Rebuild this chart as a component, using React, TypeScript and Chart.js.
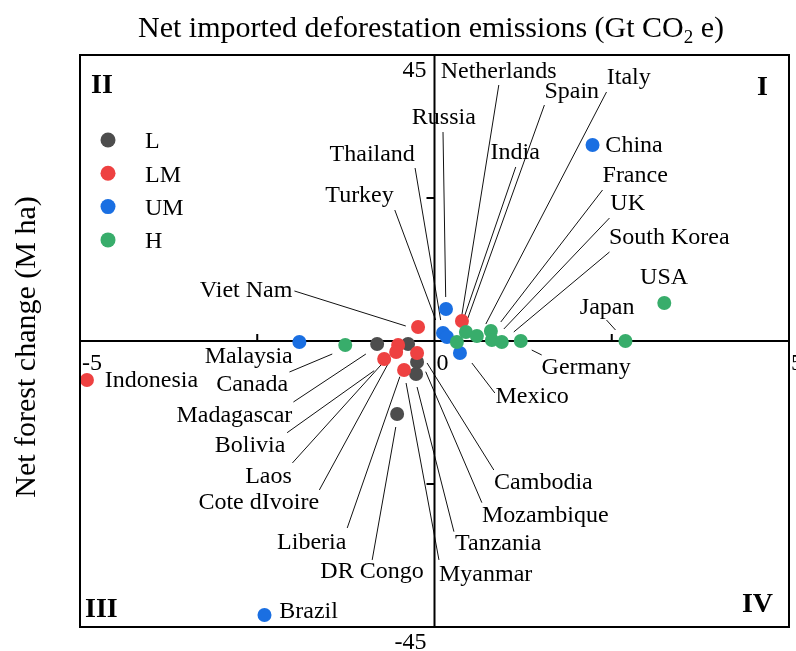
import React, { useEffect, useRef } from 'react';
import { Chart, registerables } from 'chart.js';
Chart.register(...registerables);

// ---- data (x: Gt CO2e, y: M ha) ----
const groupNames = ['L', 'LM', 'UM', 'H'];
const groupColors = ['#4d4d4d', '#ee4141', '#1a6fe2', '#38ad6b'];

const lowX = [-0.809, -0.373, -0.246, -0.260, -0.527];
const lowY = [-0.47, -0.47, -3.30, -5.19, -11.48];

const lowMidX = [-4.902, -0.513, -0.541, -0.710, -0.246, -0.429, -0.232, 0.387];
const lowMidY = [-6.14, -0.63, -1.73, -2.83, -1.89, -4.56, 2.20, 3.15];

const upMidX = [-2.398, -1.906, 0.162, 0.120, 0.176, 0.359, 2.229];
const upMidY = [-43.11, -0.16, 5.03, 1.26, 0.63, -1.89, 30.84];

const highX = [-1.259, 0.316, 0.443, 0.598, 0.795, 0.809, 0.949, 1.217, 2.693, 3.241];
const highY = [-0.63, -0.16, 1.42, 0.79, 1.57, 0.16, -0.16, 0, 0, 5.98];

const xMin = -5, xMax = 5, yMin = -45, yMax = 45;
const xTickLabels = ['-5', '0', '5'];
const xTickValues = [-5, 0, 5];
const xMinorTicks = [-2.5, 2.5];
const yTickValues = [-45, -22.5, 22.5, 45];
const yTickLabels = ['45', '-45'];
const yTickLabelValues = [45, -45];

const xTitle = ['Net imported deforestation emissions (Gt CO', '2', ' e)'];
const yTitle = 'Net forest change (M ha)';
const quadrants = ['I', 'II', 'III', 'IV'];

// country labels (text, anchor x, anchor y in data units; left aligned, middle)
const countryNames = ['Netherlands', 'Spain', 'Italy', 'Russia', 'India', 'Thailand', 'Turkey', 'China', 'France', 'UK', 'South Korea', 'USA', 'Japan', 'Germany', 'Mexico', 'Viet Nam', 'Malaysia', 'Indonesia', 'Canada', 'Madagascar', 'Bolivia', 'Laos', 'Cote dIvoire', 'Liberia', 'DR Congo', 'Myanmar', 'Tanzania', 'Mozambique', 'Cambodia', 'Brazil'];
const countryLabelX = [0.087, 1.55, 2.43, -0.32, 0.79, -1.48, -1.54, 2.41, 2.37, 2.48, 2.46, 2.90, 2.05, 1.51, 0.86, -3.31, -3.24, -4.65, -3.08, -3.64, -3.10, -2.67, -3.33, -2.22, -1.61, 0.063, 0.29, 0.67, 0.84, -2.19];
const countryLabelY = [42.3, 39.3, 41.4, 35.2, 29.7, 29.3, 22.8, 30.8, 26.0, 21.6, 16.2, 9.9, 5.3, -4.2, -8.7, 7.9, -2.4, -6.3, -6.9, -11.8, -16.5, -21.4, -25.5, -31.8, -36.3, -36.7, -31.9, -27.5, -22.3, -42.6];

// leader segments [x1, y1, x2, y2] in data units
const leaderLines = [
  [0.907, 40.28, 0.359, 2.20],
  [1.550, 37.13, 0.471, 3.62],
  [2.426, 39.18, 0.724, 2.67],
  [0.120, 32.88, 0.158, 6.92],
  [1.146, 27.38, 0.429, 4.09],
  [-0.274, 27.22, 0.087, 3.30],
  [-0.560, 20.61, 0.017, 3.30],
  [2.370, 23.76, 0.935, 2.99],
  [2.468, 19.35, 0.978, 1.89],
  [2.468, 14.00, 1.118, 1.42],
  [2.426, 3.30, 2.553, 1.73],
  [1.371, -1.42, 1.512, -2.20],
  [0.527, -3.46, 0.851, -8.18],
  [-1.976, 7.87, -0.405, 2.36],
  [-2.046, -4.88, -1.442, -2.05],
  [-1.990, -9.60, -0.968, -2.05],
  [-2.079, -14.43, -0.851, -4.67],
  [-2.004, -19.19, -0.640, -2.36],
  [-1.624, -23.44, -0.626, -2.99],
  [-1.231, -29.42, -0.489, -5.62],
  [-0.879, -34.45, -0.546, -13.53],
  [0.063, -34.45, -0.401, -6.61],
  [0.274, -30.00, -0.246, -7.24],
  [0.668, -25.44, -0.124, -4.83],
  [0.837, -20.30, -0.105, -3.46],
];

const FONT = "'Liberation Serif', 'Times New Roman', serif";

function toPoints(xs: number[], ys: number[]) {
  return xs.map((x, i) => ({ x, y: ys[i] }));
}

const overlay = {
  id: 'overlay',
  beforeDatasetsDraw(chart: any) {
    const { ctx, chartArea: ca, scales } = chart;
    const sx = scales.x, sy = scales.y;
    const x0 = sx.getPixelForValue(0), y0 = sy.getPixelForValue(0);
    ctx.save();
    ctx.strokeStyle = '#111';
    ctx.lineWidth = 1;
    leaderLines.forEach(([a, b, c, d]) => {
      ctx.beginPath();
      ctx.moveTo(sx.getPixelForValue(a), sy.getPixelForValue(b));
      ctx.lineTo(sx.getPixelForValue(c), sy.getPixelForValue(d));
      ctx.stroke();
    });
    ctx.strokeStyle = '#000';
    ctx.lineWidth = 2;
    ctx.beginPath();
    ctx.moveTo(ca.left, y0); ctx.lineTo(ca.right, y0);
    ctx.moveTo(x0, ca.top); ctx.lineTo(x0, ca.bottom);
    xMinorTicks.forEach((v) => {
      const px = sx.getPixelForValue(v);
      ctx.moveTo(px, y0); ctx.lineTo(px, y0 - 7);
    });
    yTickValues.forEach((v) => {
      const py = sy.getPixelForValue(v);
      ctx.moveTo(x0 - 8, py); ctx.lineTo(x0, py);
    });
    ctx.stroke();
    ctx.restore();
  },
  afterDatasetsDraw(chart: any) {
    const { ctx, chartArea: ca, scales } = chart;
    const sx = scales.x, sy = scales.y;
    const x0 = sx.getPixelForValue(0), y0 = sy.getPixelForValue(0);
    ctx.save();
    // frame
    ctx.strokeStyle = '#000';
    ctx.lineWidth = 2;
    ctx.strokeRect(ca.left, ca.top, ca.right - ca.left, ca.bottom - ca.top);

    ctx.fillStyle = '#000';
    ctx.font = `24px ${FONT}`;
    ctx.textBaseline = 'middle';
    // x tick labels
    ctx.textAlign = 'left';
    xTickValues.forEach((v, i) => {
      ctx.fillText(xTickLabels[i], sx.getPixelForValue(v) + 2, y0 + 23);
    });
    // y tick labels
    ctx.textAlign = 'right';
    yTickLabelValues.forEach((v, i) => {
      ctx.fillText(yTickLabels[i], x0 - 8, sy.getPixelForValue(v) + 16);
    });

    // country labels
    ctx.textAlign = 'left';
    countryNames.forEach((name, i) => {
      ctx.fillText(name, sx.getPixelForValue(countryLabelX[i]), sy.getPixelForValue(countryLabelY[i]));
    });

    // legend
    groupNames.forEach((g, i) => {
      const cy = ca.top + 85 + i * 33.3;
      ctx.fillStyle = groupColors[i];
      ctx.beginPath();
      ctx.arc(ca.left + 28, cy, 7.5, 0, Math.PI * 2);
      ctx.fill();
      ctx.fillStyle = '#000';
      ctx.fillText(g, ca.left + 65, cy + 2);
    });

    // quadrant numerals
    ctx.font = `bold 28px ${FONT}`;
    ctx.textBaseline = 'alphabetic';
    ctx.textAlign = 'right';
    ctx.fillText(quadrants[0], ca.right - 21, ca.top + 40);
    ctx.textAlign = 'left';
    ctx.fillText(quadrants[1], ca.left + 11, ca.top + 38);
    ctx.fillText(quadrants[2], ca.left + 5, ca.bottom - 10);
    ctx.textAlign = 'right';
    ctx.fillText(quadrants[3], ca.right - 16, ca.bottom - 15);

    // x title with subscript
    ctx.textAlign = 'left';
    ctx.font = `30px ${FONT}`;
    const w1 = ctx.measureText(xTitle[0]).width;
    const w3 = ctx.measureText(xTitle[2]).width;
    ctx.font = `19px ${FONT}`;
    const w2 = ctx.measureText(xTitle[1]).width;
    const total = w1 + w2 + w3;
    const startX = 431 - total / 2;
    const base = 37;
    ctx.font = `30px ${FONT}`;
    ctx.fillText(xTitle[0], startX, base);
    ctx.font = `19px ${FONT}`;
    ctx.fillText(xTitle[1], startX + w1, base + 6);
    ctx.font = `30px ${FONT}`;
    ctx.fillText(xTitle[2], startX + w1 + w2, base);

    // y title
    ctx.save();
    ctx.translate(27, 347);
    ctx.rotate(-Math.PI / 2);
    ctx.textAlign = 'center';
    ctx.textBaseline = 'middle';
    ctx.font = `30px ${FONT}`;
    ctx.fillText(yTitle, 0, 0);
    ctx.restore();

    ctx.restore();
  },
};

export default function App() {
  const ref = useRef<HTMLCanvasElement>(null);
  useEffect(() => {
    if (!ref.current) return;
    const series = [
      toPoints(lowX, lowY),
      toPoints(lowMidX, lowMidY),
      toPoints(upMidX, upMidY),
      toPoints(highX, highY),
    ];
    const chart = new Chart(ref.current, {
      type: 'scatter',
      data: {
        datasets: series.map((pts, i) => ({
          label: groupNames[i],
          data: pts,
          backgroundColor: groupColors[i],
          borderColor: groupColors[i],
          borderWidth: 0,
          pointRadius: 7,
          order: 3 - i,
        })),
      },
      options: {
        responsive: false,
        animation: false,
        devicePixelRatio: 1,
        layout: { padding: { left: 80, top: 55, right: 5, bottom: 24 } },
        scales: {
          x: { type: 'linear', min: xMin, max: xMax, display: false },
          y: { type: 'linear', min: yMin, max: yMax, display: false },
        },
        plugins: { legend: { display: false }, tooltip: { enabled: false } },
      },
      plugins: [overlay],
    } as any);
    return () => chart.destroy();
  }, []);
  return (
    <div style={{ position: 'fixed', left: 0, top: 0, width: 796, height: 651, background: '#fff' }}>
      <canvas ref={ref} width={796} height={651} style={{ width: 796, height: 651, display: 'block' }} />
    </div>
  );
}
